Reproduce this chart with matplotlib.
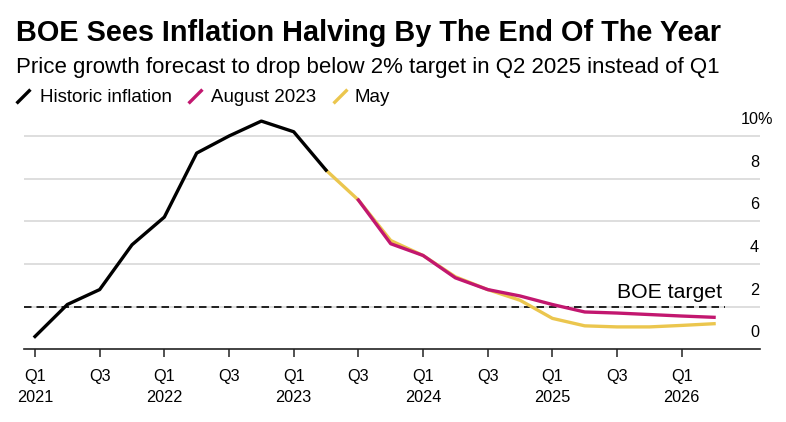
import matplotlib
matplotlib.use("Agg")
import matplotlib.pyplot as plt
from matplotlib.path import Path
from matplotlib.lines import Line2D

plt.rcParams["font.family"] = ["Liberation Sans", "DejaVu Sans"]

# quarters from Q1 2021 (index 0) to Q2 2026 (index 21)
historic_q = list(range(0, 10))
historic = [0.6, 2.1, 2.8, 4.9, 6.2, 9.2, 10.0, 10.7, 10.2, 8.4]

may_q = list(range(9, 22))
may = [8.4, 7.0, 5.1, 4.4, 3.4, 2.8, 2.3, 1.45, 1.1, 1.05, 1.05, 1.12, 1.2]

august_q = list(range(10, 22))
august = [7.0, 4.95, 4.4, 3.35, 2.8, 2.5, 2.1, 1.75, 1.7, 1.63, 1.56, 1.5]

tick_pos = list(range(0, 21, 2))
tick_labels = ["Q1\n2021", "Q3", "Q1\n2022", "Q3", "Q1\n2023", "Q3",
               "Q1\n2024", "Q3", "Q1\n2025", "Q3", "Q1\n2026"]
y_ticks = [0, 2, 4, 6, 8, 10]
boe_target = 2

BLACK = "#000000"
MAGENTA = "#c2176f"
YELLOW = "#ebc64e"

W, H = 786, 422


def fx(px):
    return px / W


def fy(py):
    return 1 - py / H


fig = plt.figure(figsize=(W / 100, H / 100), dpi=100)
ax = fig.add_axes([fx(24), fy(349.3), fx(760) - fx(24), fy(110) - fy(349.3)])

ax.set_xlim(-0.34, 22.42)
ax.set_ylim(0, 11.22)

ax.set_yticks(y_ticks[1:])
ax.grid(axis="y", color="#d4d4d4", linewidth=1.1)
ax.tick_params(axis="y", left=False, labelleft=False)

ax.set_xticks(tick_pos)
ax.set_xticklabels(tick_labels, fontsize=11.7, linespacing=1.45)
ax.tick_params(axis="x", direction="out", length=6, width=1.1, pad=8.5, color="#222222")

for side in ["top", "left", "right"]:
    ax.spines[side].set_visible(False)
ax.spines["bottom"].set_linewidth(1.2)
ax.spines["bottom"].set_color("#222222")

# BOE target line
ax.plot([-0.34, 21.35], [boe_target, boe_target], color=BLACK, linewidth=1.2,
        dashes=(4.5, 3), zorder=3)
ax.text(21.25, boe_target + 0.22, "BOE target", ha="right", va="bottom", fontsize=15.3)

ax.plot(may_q, may, color=YELLOW, linewidth=2.4, solid_joinstyle="round", zorder=4)
ax.plot(august_q, august, color=MAGENTA, linewidth=2.4, solid_joinstyle="round", zorder=5)
ax.plot(historic_q, historic, color=BLACK, linewidth=2.4, solid_joinstyle="round", zorder=6)

# right-hand value labels sitting above the grid lines
label_x = (759 - 24) / (760 - 24)
top_x = (741 - 24) / (760 - 24)
for v in y_ticks:
    if v == 10:
        ax.text(top_x, v + 0.77, f"{v}%", transform=ax.get_yaxis_transform(),
                ha="left", va="center", fontsize=11.7, clip_on=False)
    else:
        ax.text(label_x, v + 0.77, str(v), transform=ax.get_yaxis_transform(),
                ha="right", va="center", fontsize=11.7, clip_on=False)

# header
fig.text(fx(16), fy(41), "BOE Sees Inflation Halving By The End Of The Year",
         fontsize=20.8, fontweight="bold", va="baseline")
fig.text(fx(16), fy(73), "Price growth forecast to drop below 2% target in Q2 2025 instead of Q1",
         fontsize=16, va="baseline")

# legend with slanted line keys
slash = Path([(-1, -1), (1, 1)], [Path.MOVETO, Path.LINETO])
legend_items = [("Historic inflation", BLACK, 23, 40),
                ("August 2023", MAGENTA, 195, 211),
                ("May", YELLOW, 340, 355)]
for text, color, key_x, text_x in legend_items:
    fig.lines.append(Line2D([fx(key_x)], [fy(96)], transform=fig.transFigure,
                            marker=slash, markersize=10, markeredgewidth=2.4,
                            color=color, linestyle="none"))
    fig.text(fx(text_x), fy(102), text, fontsize=13.5, va="baseline")

fig.savefig("out.png", dpi=100)
